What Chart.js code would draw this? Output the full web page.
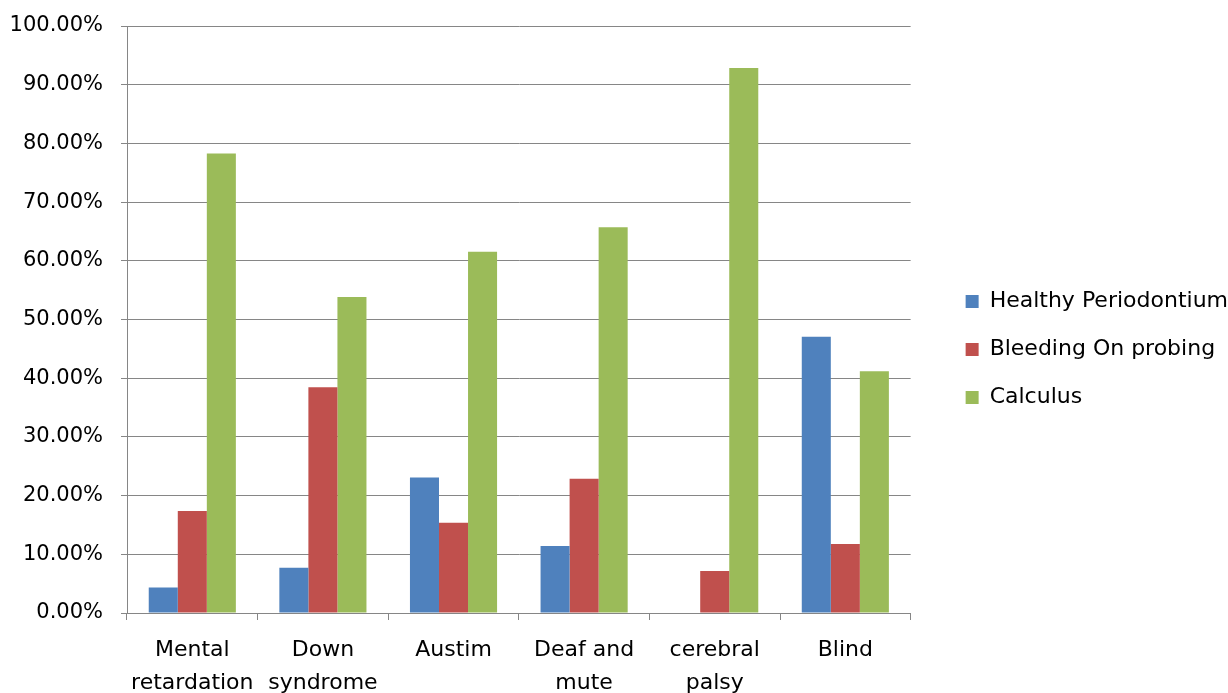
<!DOCTYPE html>
<html>
<head>
<meta charset="utf-8">
<script src="https://cdn.jsdelivr.net/npm/chart.js@4"></script>
<style>
  body { margin: 0; background: #fff; }
  #wrap { width: 1228px; height: 693px; }
</style>
</head>
<body>
<div id="wrap"><canvas id="myChart"></canvas></div>
<script>
const categories = [
  ['Mental', 'retardation'],
  ['Down', 'syndrome'],
  ['Austim'],
  ['Deaf and', 'mute'],
  ['cerebral', 'palsy'],
  ['Blind']
];
const healthy = [4.35, 7.69, 23.08, 11.43, 0, 47.06];
const bleeding = [17.39, 38.46, 15.38, 22.86, 7.14, 11.76];
const calculus = [78.26, 53.85, 61.54, 65.71, 92.86, 41.18];

const font = 'DejaVu Sans';
const gridColor = '#868686';
const legendGap = 19;
const legendShift = 29;
const legendLift = 10;

// widen the legend slot so the plot ends where the reference does,
// then push the legend items back to the right
const legendSpacer = {
  id: 'legendSpacer',
  afterInit(chart) {
    const legend = chart.legend;
    const fit = legend.fit;
    legend.fit = function() {
      fit.call(this);
      this.width += legendGap;
    };
  },
  afterLayout(chart) {
    chart.legend.left += legendShift;
    chart.legend.top -= legendLift;
    chart.legend.bottom -= legendLift;
  }
};

{
  const ctx = document.getElementById('myChart').getContext('2d');

  // eslint-disable-next-line no-unused-vars,no-undef
  const chart = new Chart(ctx, {
    type: 'bar',
    data: {
      labels: categories,
      datasets: [{
        label: 'Healthy Periodontium',
        backgroundColor: '#4F81BD',
        data: healthy,
      },
      {
        label: 'Bleeding On probing',
        backgroundColor: '#C0504D',
        data: bleeding,
      },
      {
        label: 'Calculus',
        backgroundColor: '#9BBB59',
        data: calculus,
      }]
    },
    plugins: [legendSpacer],
    options: {
      responsive: true,
      maintainAspectRatio: false,
      animation: false,
      datasets: {
        bar: { categoryPercentage: 0.667, barPercentage: 1.0 }
      },
      layout: { padding: { top: 26, left: 0, right: 0, bottom: 0 } },
      plugins: {
        tooltip: { enabled: false },
        legend: {
          position: 'right',
          labels: {
            color: '#000',
            font: { family: font, size: 22 },
            boxWidth: 13,
            boxHeight: 13,
            padding: 26,
          }
        }
      },
      scales: {
        x: {
          grid: {
            drawOnChartArea: false,
            drawTicks: true,
            tickLength: 7,
            color: gridColor,
          },
          border: { color: gridColor, width: 1 },
          ticks: {
            color: '#000',
            font: { family: font, size: 22, lineHeight: 1.5 },
            padding: 14,
            maxRotation: 0,
            autoSkip: false,
          },
          afterFit: scale => { scale.height = 80; }
        },
        y: {
          min: 0,
          max: 100,
          grid: { color: gridColor, tickLength: 6 },
          border: { color: gridColor, width: 1 },
          ticks: {
            stepSize: 10,
            color: '#000',
            font: { family: font, size: 21 },
            padding: 18,
            callback: v => v.toFixed(2) + '%',
          },
          afterFit: scale => {
            scale.width = 127;
            scale.paddingTop = 0;
            scale.paddingBottom = 0;
          }
        }
      }
    }
  });
}
</script>
</body>
</html>
